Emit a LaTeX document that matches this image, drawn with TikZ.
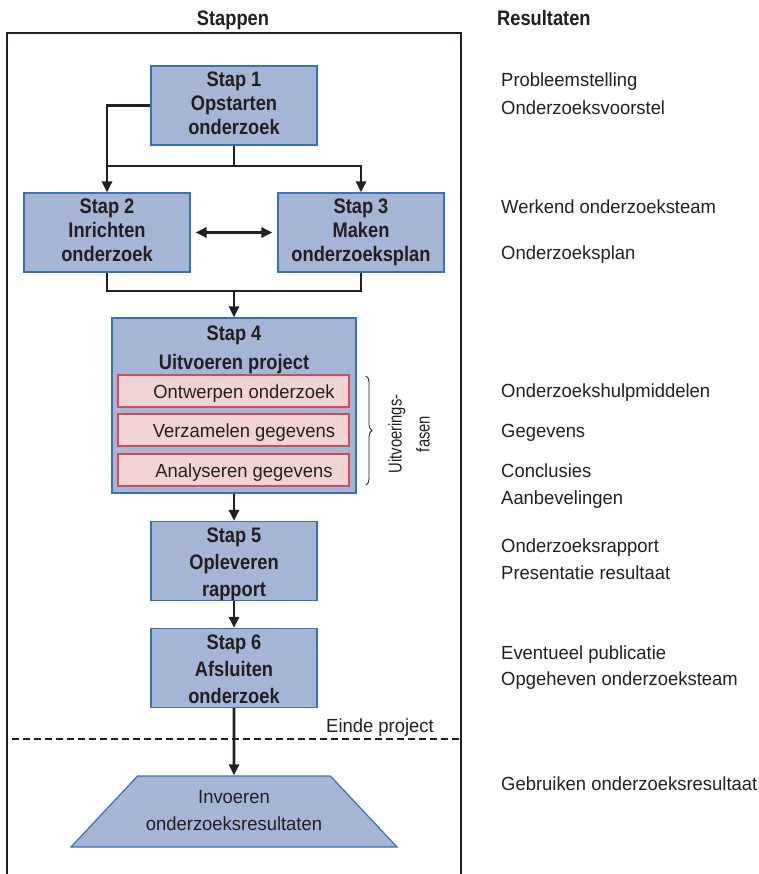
\documentclass[tikz,border=0pt]{standalone}
\usepackage{fontspec}
\setmainfont{Liberation Sans}[FakeStretch=0.97]
\newfontfamily\boldnarrow{Liberation Sans}[FakeStretch=0.87]
\newfontfamily\sidenarrow{Liberation Sans}[FakeStretch=0.80]
\usetikzlibrary{arrows.meta,shapes.geometric,decorations.pathreplacing}
\definecolor{boxfill}{HTML}{A5B5D6}
\definecolor{boxline}{HTML}{3A72B0}
\definecolor{phasefill}{HTML}{F2D3D3}
\definecolor{phaseline}{HTML}{D24A5E}
\definecolor{ink}{HTML}{231F20}
\newcommand{\bfnarrow}{\boldnarrow\bfseries}
\tikzset{
  stepbox/.style={draw=boxline, fill=boxfill, line width=1.2pt, minimum width=166pt,
    minimum height=79pt, inner sep=0pt, align=center, text=ink,
    font=\fontsize{21}{24}\bfnarrow},
  widetext/.style={inner sep=0pt, align=center, text=ink, font=\fontsize{21}{27}\bfnarrow},
  steptitle/.style={inner sep=0pt, anchor=base, text=ink, font=\fontsize{21}{24}\bfnarrow},
  phasebox/.style={draw=phaseline, fill=phasefill, line width=1.1pt, minimum width=231pt,
    minimum height=32pt, inner sep=0pt},
  phasetext/.style={inner sep=0pt, anchor=base, font=\fontsize{19}{22}\selectfont, text=ink},
  result/.style={anchor=base west, inner sep=0pt, font=\fontsize{19}{22}\selectfont, text=ink},
  head/.style={inner sep=0pt, anchor=base, font=\fontsize{21}{24}\bfnarrow, text=ink},
  flow/.style={draw=ink, line width=2.8pt},
  tip/.tip={Triangle[length=11pt,width=10pt]},
  arr/.style={flow, -tip},
}
\begin{document}
\begin{tikzpicture}[x=1pt,y=-1pt]
\useasboundingbox (0,0) rectangle (759,874);

% column headings and frame
\node[head] (hsteps) at (233,25.5) {Stappen};
\node[head, anchor=base west] (hres) at (497,25.5) {Resultaten};
\draw[ink, line width=1.4pt] (7,880) -- (7,33) -- (461,33) -- (461,880);

% steps
\node[stepbox] (s1) at (234,105.5) {\strut Stap 1\\Opstarten\\onderzoek\strut};
\node[stepbox] (s2) at (107,232.5) {\strut Stap 2\\Inrichten\\onderzoek\strut};
\node[stepbox] (s3) at (361,232.5) {\strut Stap 3\\Maken\\onderzoeksplan\strut};
\node[stepbox, minimum width=244pt, minimum height=175pt] (s4) at (234,405.5) {};
\node[steptitle] (s4a) at (234,340.5) {Stap 4};
\node[steptitle] (s4b) at (234,369.5) {Uitvoeren project};
\node[stepbox] (s5) at (234,561) {};
\node[widetext] (s5t) at ([yshift=-3pt]s5.center) {\strut Stap 5\\Opleveren\\rapport\strut};
\node[stepbox] (s6) at (234,668) {};
\node[widetext] (s6t) at ([yshift=-3pt]s6.center) {\strut Stap 6\\Afsluiten\\onderzoek\strut};
\node[draw=boxline, fill=boxfill, line width=1.2pt, trapezium, trapezium stretches=true,
  trapezium left angle=41.6, trapezium right angle=41.6, minimum width=326pt,
  minimum height=71pt, inner sep=0pt, align=center, text=ink,
  font=\fontsize{19}{27}\selectfont] (s7) at (234,811.5) {\strut Invoeren\\onderzoeksresultaten\strut};

% phases inside step 4
\node[phasebox] (p1) at (233.5,391) {};
\node[phasebox] (p2) at (233.5,430) {};
\node[phasebox] (p3) at (233.5,470) {};
\node[phasetext] (t1) at (244,398) {Ontwerpen onderzoek};
\node[phasetext] (t2) at (244,437) {Verzamelen gegevens};
\node[phasetext] (t3) at (244,477) {Analyseren gegevens};
\draw[ink, line width=0.8pt, decorate, decoration={brace, amplitude=6pt}]
  (366,376) -- (366,485);
\node[rotate=90, align=center, inner sep=0pt, font=\fontsize{18.5}{28}\sidenarrow, text=ink] (fasen)
  at (409,434) {Uitvoerings-\\fasen};

% connectors between steps
\coordinate (j1) at (234,166);
\coordinate (j2) at (234,291);
\draw[flow] (s1.west) -| (107,166);
\draw[arr] (s1.south) -- (j1) -| (s2.north);
\draw[arr] (j1) -| (s3.north);
\draw[flow, tip-tip] ([xshift=5pt]s2.east) -- ([xshift=-5pt]s3.west);
\draw[flow] (s2.south) |- (j2) -| (s3.south);
\draw[arr] (j2) -- (s4.north);
\draw[arr] (s4.south) -- (s5.north);
\draw[arr] (s5.south) -- (s6.north);
\draw[arr] (s6.south) -- (s7.north);

% end of project
\draw[ink, line width=1.1pt, dash pattern=on 7pt off 4pt] (12,739) -- (461,739);
\node[anchor=base east, inner sep=0pt, font=\fontsize{19}{22}\selectfont, text=ink] (einde)
  at (434,732) {Einde project};

% results
\node[result] (r1) at (501,87) {Probleemstelling};
\node[result] (r2) at (501,115) {Onderzoeksvoorstel};
\node[result] (r3) at (501,214) {Werkend onderzoeksteam};
\node[result] (r4) at (501,259) {Onderzoeksplan};
\node[result] (r5) at (501,397) {Onderzoekshulpmiddelen};
\node[result] (r6) at (501,437) {Gegevens};
\node[result] (r7) at (501,477) {Conclusies};
\node[result] (r8) at (501,504) {Aanbevelingen};
\node[result] (r9) at (501,552) {Onderzoeksrapport};
\node[result] (r10) at (501,579) {Presentatie resultaat};
\node[result] (r11) at (501,659) {Eventueel publicatie};
\node[result] (r12) at (501,685) {Opgeheven onderzoeksteam};
\node[result] (r13) at (501,790) {Gebruiken onderzoeksresultaat};
\end{tikzpicture}
\end{document}
